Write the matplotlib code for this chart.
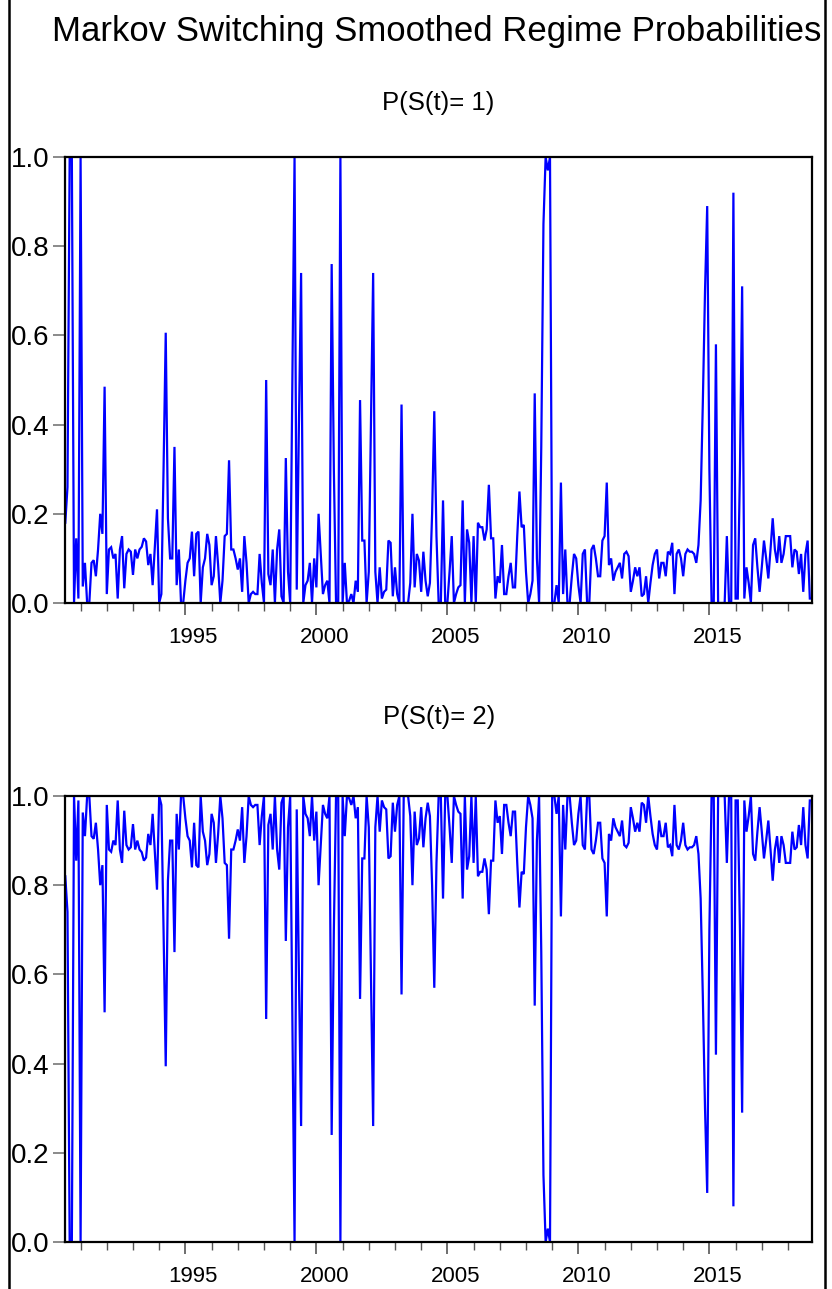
import numpy as np
import pandas as pd
import matplotlib
matplotlib.use("Agg")
import matplotlib.pyplot as plt
from matplotlib.lines import Line2D
import matplotlib.transforms as mtransforms

# ---------------- data ----------------
title = "Markov Switching Smoothed Regime Probabilities"
panel_titles = ["P(S(t)= 1)", "P(S(t)= 2)"]
start_month = "1990-06"

# smoothed probability of regime 1, monthly, 1990M6-1999M12
p1_1990s = [0.18, 0.26, 1.0, 1.0, 0.0, 0.145, 0.01, 1.0, 0.037, 0.09, 0.0, 0.0, 0.09, 0.096, 0.06,
            0.12, 0.2, 0.155, 0.485, 0.02, 0.12, 0.125, 0.10, 0.11, 0.01, 0.12, 0.15, 0.033, 0.11,
            0.12, 0.115, 0.063, 0.12, 0.10, 0.12, 0.126, 0.145, 0.138, 0.085, 0.11, 0.04, 0.126,
            0.21, 0.0, 0.02, 0.30, 0.606, 0.19, 0.10, 0.10, 0.35, 0.04, 0.12, 0.0, 0.0, 0.05, 0.09,
            0.10, 0.16, 0.06, 0.155, 0.16, 0.0, 0.08, 0.10, 0.155, 0.13, 0.04, 0.06, 0.15, 0.085,
            0.0, 0.05, 0.15, 0.155, 0.32, 0.12, 0.12, 0.10, 0.075, 0.10, 0.025, 0.15, 0.09, 0.0,
            0.02, 0.025, 0.02, 0.02, 0.11, 0.045, 0.0, 0.5, 0.065, 0.04, 0.12, 0.0, 0.12, 0.165,
            0.015, 0.0, 0.325, 0.07, 0.0, 0.5, 1.0, 0.03, 0.4, 0.74, 0.0, 0.04, 0.05, 0.09, 0.0,
            0.10]
# 2000M1-2009M12
p1_2000s = [0.035, 0.2, 0.11, 0.02, 0.04, 0.05, 0.0, 0.76, 0.3, 0.0, 0.0, 1.0, 0.0, 0.09, 0.0,
            0.005, 0.02, 0.0, 0.05, 0.025, 0.455, 0.14, 0.14, 0.0, 0.07, 0.4, 0.74, 0.07, 0.0,
            0.08, 0.01, 0.025, 0.03, 0.14, 0.135, 0.015, 0.08, 0.02, 0.0, 0.445, 0.0, 0.0, 0.0,
            0.045, 0.2, 0.035, 0.11, 0.095, 0.025, 0.115, 0.05, 0.015, 0.045, 0.2, 0.43, 0.15,
            0.0, 0.0, 0.23, 0.0, 0.0, 0.07, 0.15, 0.0, 0.02, 0.035, 0.04, 0.23, 0.0, 0.165, 0.135,
            0.0, 0.15, 0.0, 0.18, 0.17, 0.17, 0.14, 0.165, 0.265, 0.145, 0.145, 0.01, 0.06, 0.045,
            0.13, 0.02, 0.02, 0.06, 0.09, 0.035, 0.035, 0.15, 0.25, 0.17, 0.175, 0.07, 0.0, 0.02,
            0.05, 0.47, 0.1, 0.0, 0.35, 0.85, 1.0, 0.97, 1.0, 0.0, 0.0, 0.04, 0.0, 0.27, 0.02,
            0.12, 0.0, 0.0, 0.06, 0.11, 0.10]
# 2010M1-2018M12
p1_2010s = [0.04, 0.0, 0.11, 0.12, 0.0, 0.0, 0.12, 0.13, 0.10, 0.06, 0.06, 0.14, 0.15, 0.27,
            0.085, 0.10, 0.05, 0.07, 0.08, 0.09, 0.055, 0.11, 0.115, 0.105, 0.025, 0.05, 0.08,
            0.06, 0.08, 0.015, 0.02, 0.06, 0.0, 0.045, 0.085, 0.11, 0.12, 0.055, 0.09, 0.09, 0.06,
            0.115, 0.11, 0.135, 0.02, 0.11, 0.12, 0.10, 0.06, 0.11, 0.12, 0.115, 0.115, 0.11,
            0.09, 0.13, 0.23, 0.45, 0.70, 0.89, 0.3, 0.0, 0.0, 0.58, 0.0, 0.0, 0.0, 0.0, 0.15,
            0.0, 0.0, 0.92, 0.01, 0.01, 0.3, 0.71, 0.01, 0.08, 0.045, 0.0, 0.13, 0.145, 0.08,
            0.025, 0.08, 0.14, 0.1, 0.055, 0.12, 0.19, 0.12, 0.09, 0.15, 0.09, 0.11, 0.15, 0.15,
            0.15, 0.08, 0.12, 0.115, 0.065, 0.11, 0.025, 0.11, 0.14, 0.01, 0.01]

major_years = [1995, 2000, 2005, 2010, 2015]
minor_years = list(range(1991, 2019))
y_ticks = [0.0, 0.2, 0.4, 0.6, 0.8, 1.0]

# ---------------- derived ----------------
p1 = np.array(p1_1990s + p1_2000s + p1_2010s)
p2 = 1.0 - p1
dates = pd.date_range(start_month, periods=len(p1), freq="MS")
t = dates.year + (dates.month - 1) / 12.0

plt.rcParams['font.family'] = ['Liberation Sans', 'DejaVu Sans']

W, H = 832, 1289
fig = plt.figure(figsize=(W / 100, H / 100), dpi=100)
fig.patch.set_facecolor('white')


def rect(x0, x1, ytop, ybot):
    return [x0 / W, 1 - ybot / H, (x1 - x0) / W, (ybot - ytop) / H]


ax1 = fig.add_axes(rect(65.3, 812, 157, 603))
ax2 = fig.add_axes(rect(65.3, 812, 796, 1242))

shift = mtransforms.ScaledTranslation(8 / 100, 0, fig.dpi_scale_trans)

for ax, series, ptitle, ty in zip([ax1, ax2], [p1, p2], panel_titles, [103, 717]):
    ax.plot(t, series, color='#0000ff', lw=1.6, solid_joinstyle='miter')
    ax.set_xlim(t[0], t[-1])
    ax.set_ylim(0, 1)
    ax.set_xticks(major_years)
    ax.set_xticklabels([str(y) for y in major_years])
    ax.set_xticks(minor_years, minor=True)
    ax.set_yticks(y_ticks)
    ax.set_yticklabels([f"{v:.1f}" for v in y_ticks])
    ax.tick_params(axis='x', which='major', length=8.6, width=1.2, color='#555555',
                   labelsize=16, pad=9, direction='out')
    ax.tick_params(axis='x', which='minor', length=5.6, width=1.0, color='#555555',
                   direction='out')
    ax.tick_params(axis='y', which='major', length=8.6, width=1.2, color='#777777',
                   labelsize=20, pad=3, direction='out')
    ax.tick_params(top=False, right=False)
    for lab in ax.get_xticklabels():
        lab.set_transform(lab.get_transform() + shift)
    for sp in ax.spines.values():
        sp.set_linewidth(1.6)
        sp.set_color('black')
    fig.text((65.3 + 812) / 2 / W, 1 - ty / H, ptitle, ha='center', va='center', fontsize=18.5)

fig.text(437 / W, 1 - 32 / H, title, ha='center', va='center', fontsize=25)

# outer frame lines (left/right)
for xf in (9, 825):
    fig.add_artist(Line2D([xf / W, xf / W], [0, 1], transform=fig.transFigure,
                          color='black', lw=1.8))

fig.savefig("out.png", dpi=100, facecolor='white')
